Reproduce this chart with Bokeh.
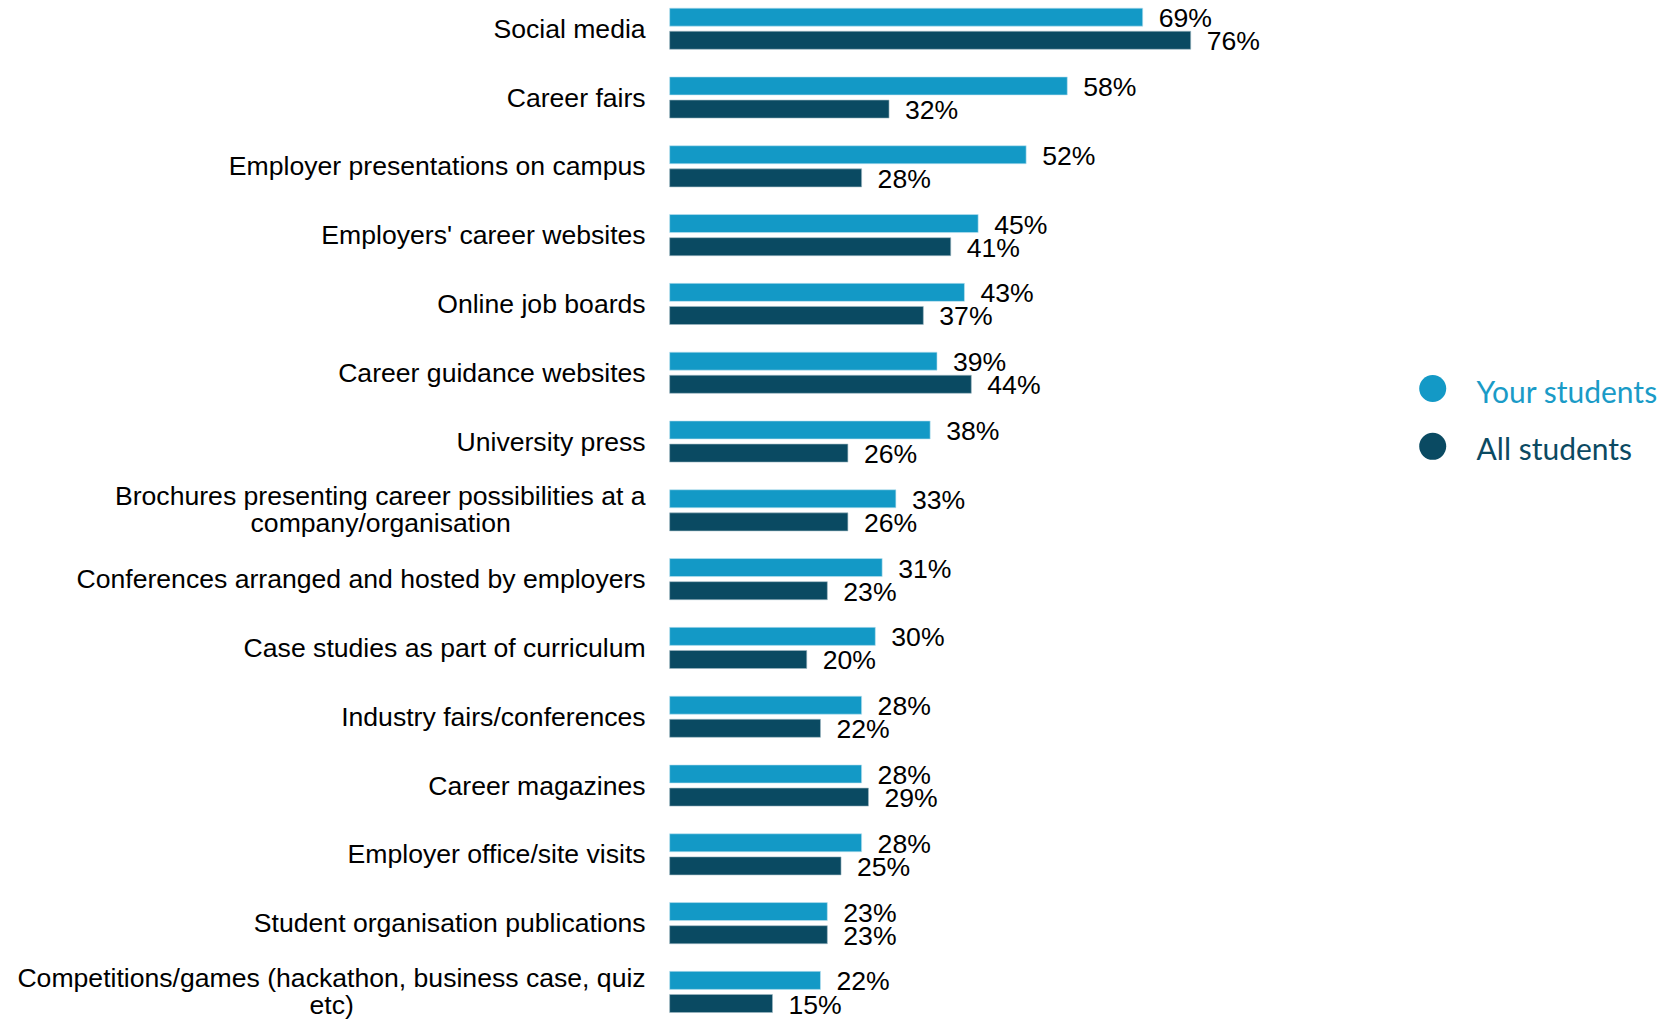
from bokeh.plotting import figure
from bokeh.models import Range1d, ColumnDataSource
from bokeh.core.properties import value
from bokeh.embed import file_html
from bokeh.resources import INLINE

categories = [
    "Social media",
    "Career fairs",
    "Employer presentations on campus",
    "Employers' career websites",
    "Online job boards",
    "Career guidance websites",
    "University press",
    "Brochures presenting career possibilities at a\ncompany/organisation",
    "Conferences arranged and hosted by employers",
    "Case studies as part of curriculum",
    "Industry fairs/conferences",
    "Career magazines",
    "Employer office/site visits",
    "Student organisation publications",
    "Competitions/games (hackathon, business case, quiz\netc)",
]
your_students = [69, 58, 52, 45, 43, 39, 38, 33, 31, 30, 28, 28, 28, 23, 22]
all_students = [76, 32, 28, 41, 37, 44, 26, 26, 23, 20, 22, 29, 25, 23, 15]
series_names = ["Your students", "All students"]

LIGHT = "#1399C6"
DARK = "#0A4A62"
FONT = "Liberation Sans"
LEG_FONT = "Lato"
FS = "26.6px"

p = figure(width=1666, height=1020, output_backend="svg", toolbar_location=None,
           x_range=Range1d(-97.6, 145.4), y_range=Range1d(14.415, -0.41),
           min_border=0)
p.axis.visible = False
p.grid.visible = False
p.outline_line_color = None
p.background_fill_color = "white"
p.border_fill_color = "white"

n = len(categories)
pos = list(range(n))
off = 0.168
bh = 0.262

src = ColumnDataSource(dict(
    y1=[i - off for i in pos], y2=[i + off for i in pos],
    v1=your_students, v2=all_students,
    l1=[f"{v}%" for v in your_students], l2=[f"{v}%" for v in all_students],
))

p.hbar(y="y1", right="v1", left=0, height=bh, source=src, fill_color=LIGHT,
       line_color="#BFE3F0", line_width=0.6)
p.hbar(y="y2", right="v2", left=0, height=bh, source=src, fill_color=DARK,
       line_color="#9FB8C2", line_width=0.6)

p.text(x="v1", y="y1", text="l1", source=src, x_offset=16, y_offset=1,
       text_font=value(FONT), text_font_size=FS, text_color="black",
       text_align="left", text_baseline="middle")
p.text(x="v2", y="y2", text="l2", source=src, x_offset=16, y_offset=1,
       text_font=value(FONT), text_font_size=FS, text_color="black",
       text_align="left", text_baseline="middle")

# category labels (right aligned; wrapped labels have their second line centred under the first)
single_y, single_t = [], []
first_y, first_t, second_y, second_t, second_off = [], [], [], [], []
wrap_half_width = {7: 265, 14: 314}
for i, c in enumerate(categories):
    if "\n" in c:
        a, b = c.split("\n")
        first_y.append(i - 0.205)
        first_t.append(a)
        second_y.append(i + 0.19)
        second_t.append(b)
        second_off.append(-wrap_half_width[i])
    else:
        single_y.append(i)
        single_t.append(c)

LX = -3.5
p.text(x=[LX] * len(single_y), y=single_y, text=single_t, text_font=value(FONT),
       text_font_size=FS, text_color="black", text_align="right", text_baseline="middle")
p.text(x=[LX] * len(first_y), y=first_y, text=first_t, text_font=value(FONT),
       text_font_size=FS, text_color="black", text_align="right", text_baseline="middle")
src2 = ColumnDataSource(dict(x=[LX] * len(second_y), y=second_y, t=second_t, o=second_off))
p.text(x="x", y="y", text="t", x_offset="o", source=src2, text_font=value(FONT),
       text_font_size=FS, text_color="black", text_align="center", text_baseline="middle")

# legend
leg_x = 111.3
leg_tx = 117.7
leg_y = [5.23, 6.07]
p.scatter(x=[leg_x, leg_x], y=leg_y, size=27, marker="circle",
          fill_color=[LIGHT, DARK], line_color=None)
p.text(x=[leg_tx, leg_tx], y=leg_y, text=series_names, text_font=value(LEG_FONT),
       text_font_size="30px", text_color=["#1A9BC7", "#0B4A62"],
       text_align="left", text_baseline="middle", y_offset=2)

open("out.html", "w").write(file_html(p, INLINE))
